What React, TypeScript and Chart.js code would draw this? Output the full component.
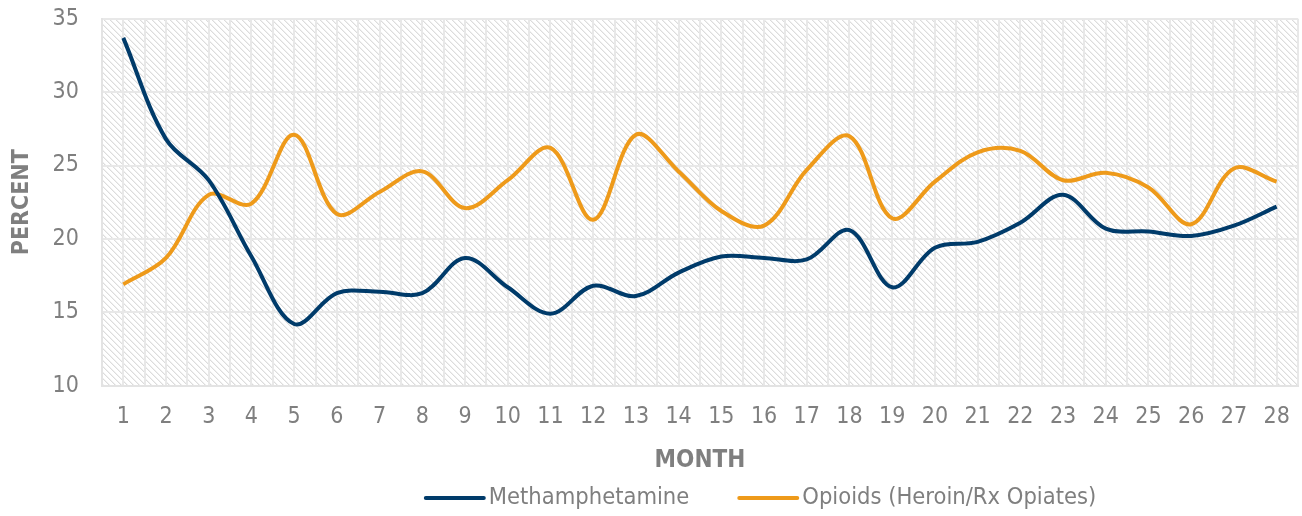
import React, { useEffect, useRef } from "react";
import { Chart, registerables } from "chart.js";

Chart.register(...registerables);

const months = [1, 2, 3, 4, 5, 6, 7, 8, 9, 10, 11, 12, 13, 14, 15, 16, 17, 18, 19, 20, 21, 22, 23, 24, 25, 26, 27, 28];
const methamphetamine = [33.7, 26.8, 24.0, 18.8, 14.2, 16.3, 16.4, 16.3, 18.7, 16.7, 14.9, 16.8, 16.1, 17.7, 18.8, 18.7, 18.6, 20.6, 16.7, 19.4, 19.8, 21.1, 23.0, 20.7, 20.5, 20.2, 20.9, 22.2];
const opioids = [16.9, 18.7, 23.0, 22.4, 27.1, 21.7, 23.2, 24.6, 22.1, 24.0, 26.2, 21.3, 27.1, 24.6, 21.9, 20.9, 24.7, 27.0, 21.4, 23.9, 25.9, 26.0, 24.0, 24.5, 23.5, 21.0, 24.8, 23.9];
const yTicks = [10, 15, 20, 25, 30, 35];

const FONT = "'DejaVu Sans Condensed', 'Liberation Sans Narrow', 'Roboto', sans-serif";
const GRAY = "#7f7f7f";
const NAVY = "#003B6A";
const ORANGE = "#EE9A1A";

function makePattern(ctx: CanvasRenderingContext2D) {
  const c = document.createElement("canvas");
  const n = 6;
  c.width = n;
  c.height = n;
  const p = c.getContext("2d")!;
  p.fillStyle = "#ffffff";
  p.fillRect(0, 0, n, n);
  for (let i = 0; i < n; i++) {
    p.fillStyle = "#dcdcdc";
    p.fillRect(i, i, 1, 1);
    p.fillStyle = "#f0f0f0";
    p.fillRect((i + 1) % n, i, 1, 1);
  }
  return ctx.createPattern(c, "repeat");
}

const hatchPlugin = {
  id: "hatch",
  beforeDraw(chart: any) {
    const { ctx, chartArea } = chart;
    if (!chartArea) return;
    ctx.save();
    ctx.fillStyle = makePattern(ctx) || "#f2f2f2";
    ctx.fillRect(chartArea.left, chartArea.top, chartArea.right - chartArea.left, chartArea.bottom - chartArea.top);
    ctx.restore();
  },
};

const legendPlugin = {
  id: "lineLegend",
  afterDraw(chart: any) {
    const ctx = chart.ctx as CanvasRenderingContext2D;
    ctx.save();
    ctx.font = `23.5px ${FONT}`;
    const lineW = 62;
    const gap = 3;
    const spacing = 48;
    const items = chart.data.datasets.map((ds: any) => ({
      label: ds.label as string,
      color: ds.borderColor as string,
      w: ctx.measureText(ds.label).width,
    }));
    const total = items.reduce((s: number, it: any) => s + lineW + gap + it.w, 0) + spacing * (items.length - 1);
    let x = 760 - total / 2;
    const y = 498;
    ctx.textBaseline = "middle";
    ctx.textAlign = "left";
    for (const it of items) {
      ctx.strokeStyle = it.color;
      ctx.lineWidth = 4;
      ctx.lineCap = "round";
      ctx.beginPath();
      ctx.moveTo(x + 2, y);
      ctx.lineTo(x + lineW - 2, y);
      ctx.stroke();
      ctx.fillStyle = GRAY;
      ctx.fillText(it.label, x + lineW + gap, y);
      x += lineW + gap + it.w + spacing;
    }
    ctx.restore();
  },
};

export default function App() {
  const ref = useRef<HTMLCanvasElement | null>(null);
  useEffect(() => {
    if (!ref.current) return;
    const chart = new Chart(ref.current, {
      type: "line",
      data: {
        datasets: [
          {
            label: "Methamphetamine",
            data: months.map((m, i) => ({ x: m, y: methamphetamine[i] })),
            borderColor: NAVY,
            backgroundColor: NAVY,
            borderWidth: 4,
            pointRadius: 0,
            tension: 0.35,
            fill: false,
          },
          {
            label: "Opioids (Heroin/Rx Opiates)",
            data: months.map((m, i) => ({ x: m, y: opioids[i] })),
            borderColor: ORANGE,
            backgroundColor: ORANGE,
            borderWidth: 4,
            pointRadius: 0,
            tension: 0.35,
            fill: false,
          },
        ],
      },
      options: {
        animation: false,
        responsive: false,
        maintainAspectRatio: false,
        layout: { padding: { top: 6, right: 4, left: 3, bottom: 41 } },
        plugins: {
          tooltip: { enabled: false },
          legend: { display: false },
        },
        scales: {
          x: {
            type: "linear",
            min: 0.5,
            max: 28.5,
            afterBuildTicks: (axis: any) => {
              const t: any[] = [];
              for (let v = 0.5; v <= 28.5; v += 0.5) t.push({ value: v });
              axis.ticks = t;
            },
            ticks: {
              autoSkip: false,
              maxRotation: 0,
              color: GRAY,
              padding: 2,
              font: { family: FONT, size: 23 },
              callback: (v: any) => (Number.isInteger(v) && months.includes(v) ? String(v) : ""),
            },
            grid: { color: "#e8e8e8", lineWidth: 2, tickLength: 16, tickColor: "rgba(0,0,0,0)" },
            border: { color: "#e3e3e3", width: 2 },
            title: {
              display: true,
              text: "MONTH",
              color: GRAY,
              font: { family: FONT, size: 24, weight: "bold" },
              padding: { top: 13, bottom: 0 },
            },
          },
          y: {
            min: 10,
            max: 35,
            afterBuildTicks: (axis: any) => {
              axis.ticks = yTicks.map((v) => ({ value: v }));
            },
            ticks: {
              color: GRAY,
              padding: 5,
              font: { family: FONT, size: 23 },
            },
            grid: { color: "#e8e8e8", lineWidth: 2, tickLength: 18, tickColor: "rgba(0,0,0,0)" },
            border: { color: "#e3e3e3", width: 2 },
            title: {
              display: true,
              text: "PERCENT",
              color: GRAY,
              font: { family: FONT, size: 23, weight: "bold" },
              padding: { top: 5, bottom: 12 },
            },
          },
        },
      },
      plugins: [hatchPlugin, legendPlugin],
    } as any);
    return () => chart.destroy();
  }, []);
  return (
    <div style={{ position: "absolute", left: 0, top: 0, width: 1302, height: 516, background: "#fff" }}>
      <canvas ref={ref} width={1302} height={516} style={{ display: "block" }} />
    </div>
  );
}
